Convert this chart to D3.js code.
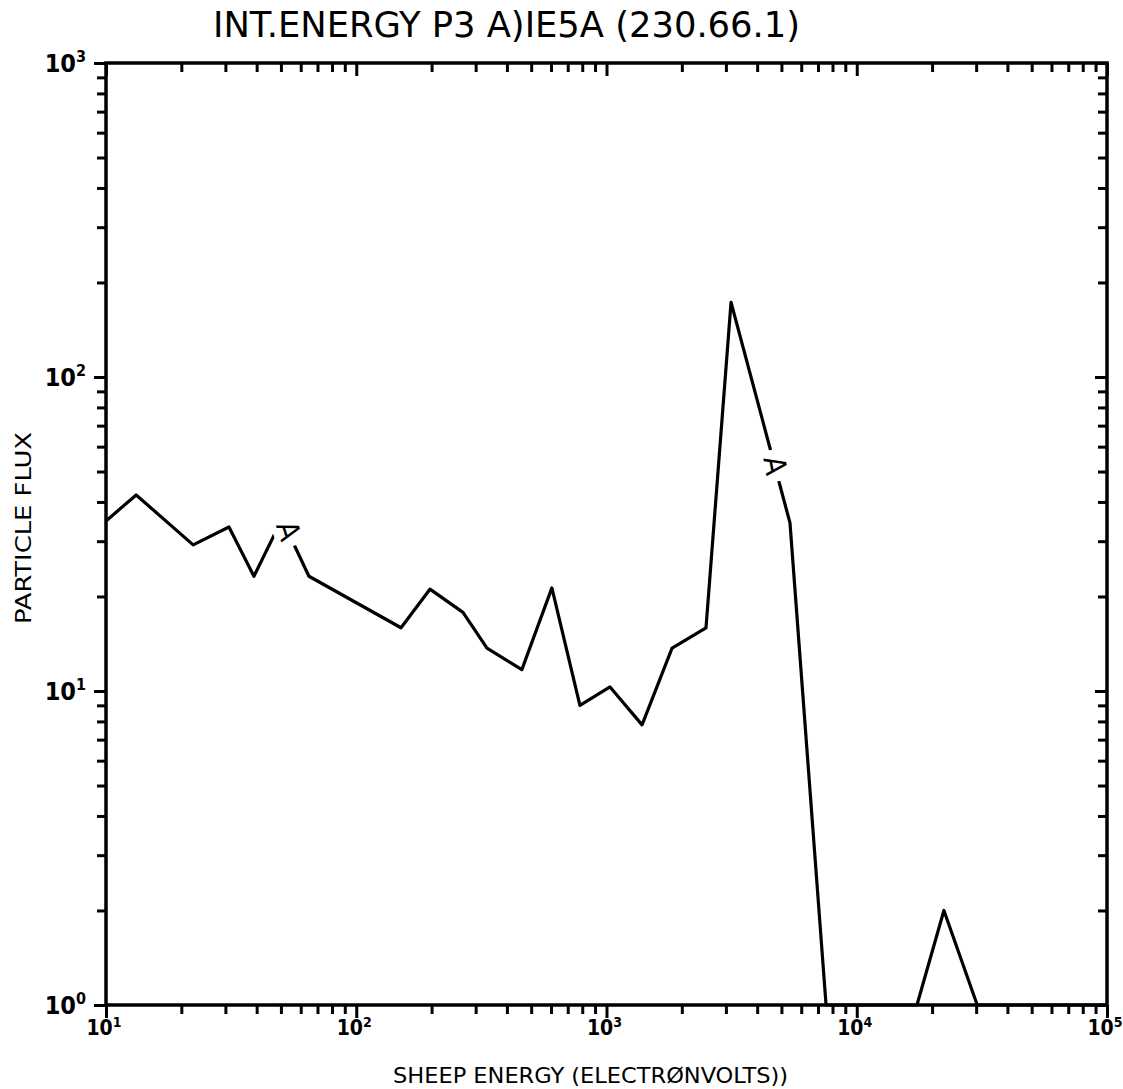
<!DOCTYPE html>
<html><head><meta charset="utf-8">
<script src="https://cdn.jsdelivr.net/npm/d3@7"></script>
<style>
body{margin:0;background:#fff;}
svg{display:block;}
text{font-family:"Liberation Sans Narrow","DejaVu Sans Condensed","DejaVu Sans",sans-serif;fill:#000;}
</style></head>
<body>
<svg id="c" width="1123" height="1089"></svg>
<script>
const titleText = "INT.ENERGY P3 A)IE5A (230.66.1)";
const xTitle = "SHEEP ENERGY (ELECTRØNVOLTS))";
const yTitle = "PARTICLE FLUX";
const xDecades = [10, 100, 1000, 10000, 100000];
const xDecadeExp = ["1", "2", "3", "4", "5"];
const yDecades = [1, 10, 100, 1000];
const yDecadeExp = ["0", "1", "2", "3"];
const energy = [10, 13.2, 22.3, 31.0, 39.0, 50.5, 64.7, 151, 197, 267, 333, 459, 605, 783, 1033, 1387, 1828, 2498, 3145, 5410, 7540, 17400, 22300, 30300, 100000];
const flux   = [34.8, 42.1, 29.2, 33.3, 23.2, 35.3, 23.2, 15.9, 21.1, 17.8, 13.7, 11.7, 21.3, 9.0, 10.3, 7.8, 13.7, 15.9, 173, 34.3, 1, 1, 2.0, 1, 1];
const curveLabel = "A";

const L = 106, R = 1107, T = 63, B = 1005;
const svg = d3.select("#c");
const x = d3.scaleLog().domain([10, 1e5]).range([L, R]);
const y = d3.scaleLog().domain([1, 1000]).range([B, T]);

function minorTicks(decs) {
  const out = [];
  for (let i = 0; i < decs.length - 1; i++) for (let k = 2; k <= 9; k++) out.push(decs[i] * k);
  return out;
}
const xMinor = minorTicks(xDecades), yMinor = minorTicks(yDecades);

function styleAxis(g) {
  g.select(".domain").remove();
  g.selectAll("line").attr("stroke", "#000").attr("stroke-width", 3);
  g.selectAll("text").remove();
}
// minor ticks
svg.append("g").attr("transform", `translate(0,${B})`).call(d3.axisBottom(x).tickValues(xMinor).tickSize(9)).call(styleAxis);
svg.append("g").attr("transform", `translate(0,${T})`).call(d3.axisBottom(x).tickValues(xMinor).tickSize(9)).call(styleAxis);
svg.append("g").attr("transform", `translate(${L},0)`).call(d3.axisLeft(y).tickValues(yMinor).tickSize(9)).call(styleAxis);
svg.append("g").attr("transform", `translate(${R},0)`).call(d3.axisLeft(y).tickValues(yMinor).tickSize(9)).call(styleAxis);
// major ticks
svg.append("g").attr("transform", `translate(0,${B})`).call(d3.axisBottom(x).tickValues(xDecades).tickSize(13)).call(styleAxis);
svg.append("g").attr("transform", `translate(0,${T})`).call(d3.axisBottom(x).tickValues(xDecades).tickSize(13)).call(styleAxis);
svg.append("g").attr("transform", `translate(${L},0)`).call(d3.axisLeft(y).tickValues(yDecades).tickSize(12)).call(styleAxis);
svg.append("g").attr("transform", `translate(${R},0)`).call(d3.axisLeft(y).tickValues(yDecades).tickSize(12)).call(styleAxis);

// frame
svg.append("rect").attr("x", L).attr("y", T).attr("width", R - L).attr("height", B - T)
  .attr("fill", "none").attr("stroke", "#000").attr("stroke-width", 3.5);

// tick labels
xDecades.forEach((v, i) => {
  const t = svg.append("text").attr("x", x(v) - 2).attr("y", 1035).attr("text-anchor", "middle")
    .attr("font-size", 21).attr("font-weight", "bold");
  t.append("tspan").text("10");
  t.append("tspan").attr("dy", -8).attr("font-size", 14).text(xDecadeExp[i]);
});
yDecades.forEach((v, i) => {
  const t = svg.append("text").attr("x", 86).attr("y", y(v) + 9).attr("text-anchor", "end")
    .attr("font-size", 25).attr("font-weight", "bold");
  t.append("tspan").text("10");
  t.append("tspan").attr("dy", -10).attr("font-size", 16).text(yDecadeExp[i]);
});

// titles
svg.append("text").attr("x", 213).attr("y", 37).attr("font-size", 35)
  .attr("textLength", 587).attr("lengthAdjust", "spacingAndGlyphs").text(titleText);
svg.append("text").attr("x", 393).attr("y", 1083).attr("font-size", 22)
  .attr("textLength", 395).attr("lengthAdjust", "spacingAndGlyphs").text(xTitle);
svg.append("text").attr("transform", "translate(31,528) rotate(-90)").attr("text-anchor", "middle")
  .attr("font-size", 22).attr("textLength", 192).attr("lengthAdjust", "spacingAndGlyphs").text(yTitle);

// data line
const pts = energy.map((e, i) => [e, flux[i]]);
svg.append("path").datum(pts)
  .attr("d", d3.line().x(d => x(d[0])).y(d => y(d[1])))
  .attr("fill", "none").attr("stroke", "#000").attr("stroke-width", 3.2).attr("stroke-linejoin", "round");

// curve labels with gap
function curveMark(px, py, ang) {
  const g = svg.append("g").attr("transform", `translate(${px},${py}) rotate(${ang})`);
  g.append("rect").attr("x", -16).attr("y", -15).attr("width", 32).attr("height", 30).attr("fill", "#fff");
  g.append("text").attr("x", 0).attr("y", 10).attr("text-anchor", "middle").attr("font-size", 30).text(curveLabel);
}
const p5 = [x(energy[5]), y(flux[5])];
curveMark(p5[0] + 6, p5[1] + 12, 72);
const a = [x(energy[18]), y(flux[18])], b = [x(energy[19]), y(flux[19])];
curveMark(a[0] + (b[0] - a[0]) * 0.74, a[1] + (b[1] - a[1]) * 0.74, 80);
</script>
</body></html>
